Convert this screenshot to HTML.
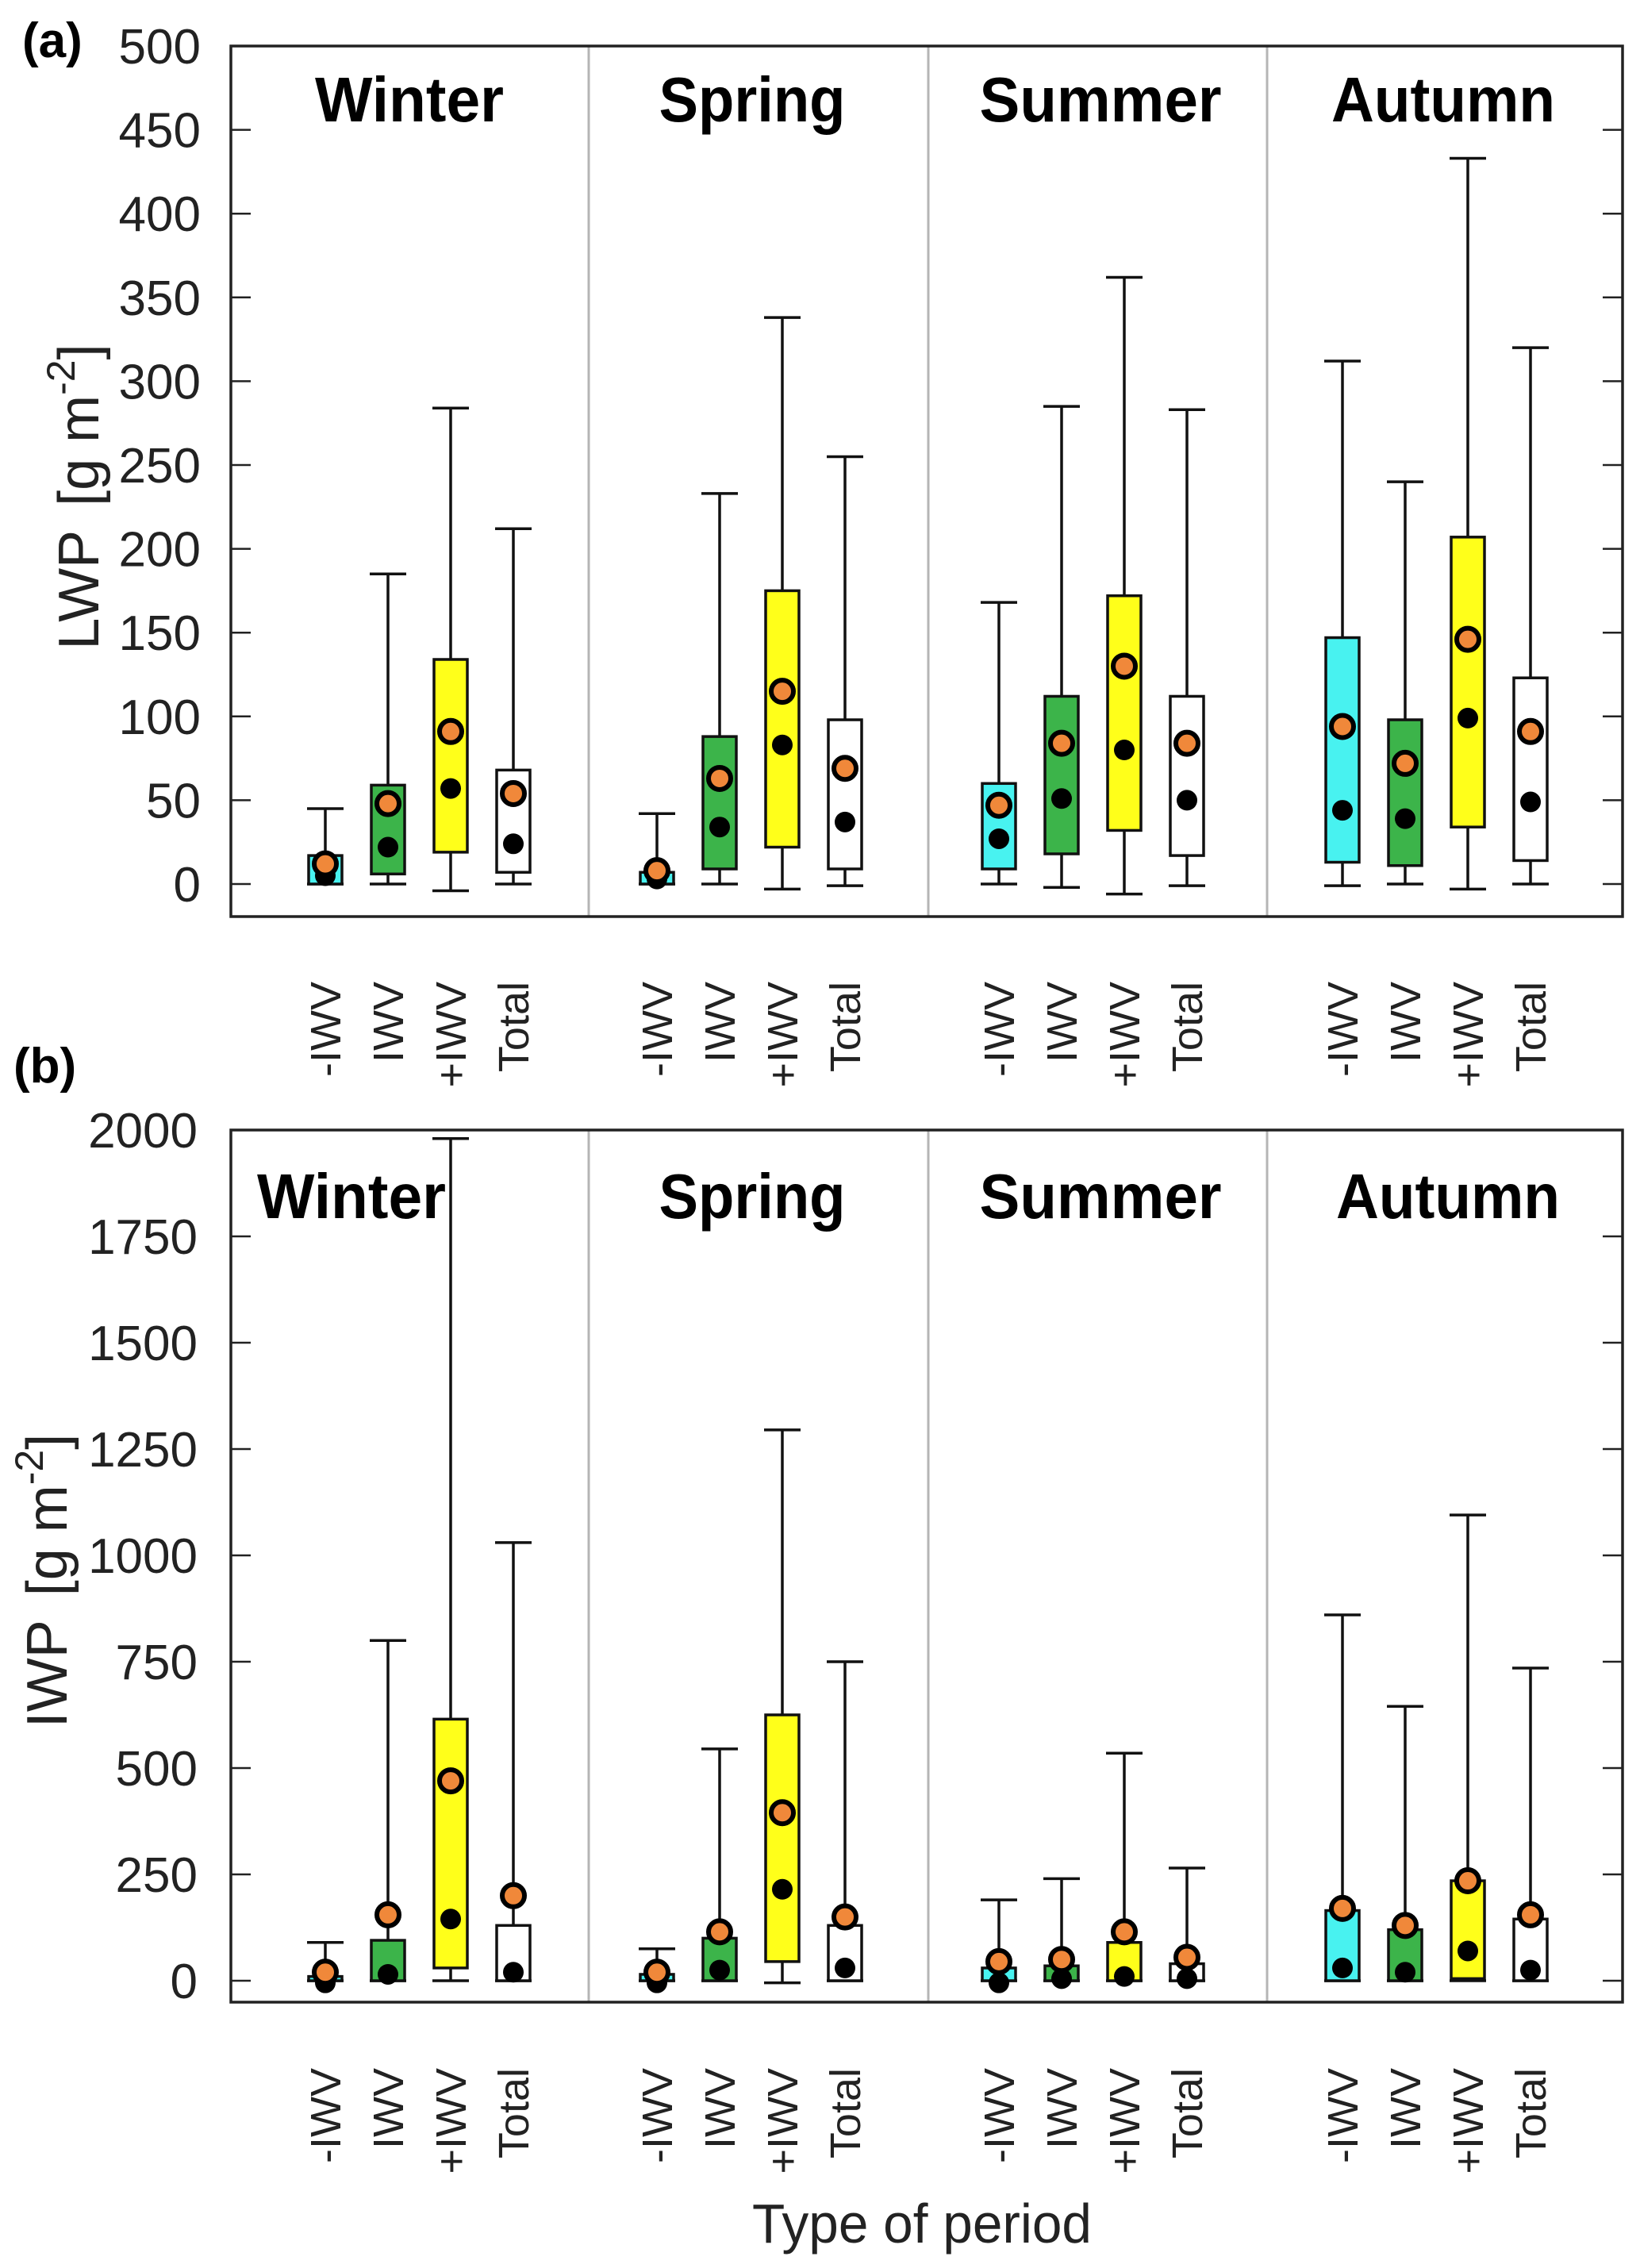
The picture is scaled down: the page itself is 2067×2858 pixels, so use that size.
<!DOCTYPE html>
<html><head><meta charset="utf-8"><style>
html,body{margin:0;padding:0;background:#fff;}
svg{display:block;}
text{font-family:"Liberation Sans",sans-serif;fill:#222;}
</style></head><body>
<svg id="fig" xmlns="http://www.w3.org/2000/svg" width="2067" height="2858" viewBox="0 0 2067 2858">
<rect width="2067" height="2858" fill="#fff"/>
<g id="root"></g>
</svg>
<script>
// ---- data ----
const seasons = ["Winter","Spring","Summer","Autumn"];
const categories = ["-IWV","IWV","+IWV","Total"];
const colors = ["#48f2f0","#3cb44a","#ffff1a","#ffffff"];
// LWP panel (a): order per season: -IWV, IWV, +IWV, Total
const lwpWhiskerLow = [0,0,-4,0, 0,0,-3,-1, 0,-2,-6,-1, -1,0,-3,0];
const lwpQ1         = [0,6,19,7, 0,9,22,9, 9,18,32,17, 13,11,34,14];
const lwpMedian     = [5,22,57,24, 3,34,83,37, 27,51,80,50, 44,39,99,49];
const lwpMean       = [12,48,91,54, 8,63,115,69, 47,84,130,84, 94,72,146,91];
const lwpQ3         = [17,59,134,68, 7,88,175,98, 60,112,172,112, 147,98,207,123];
const lwpWhiskerHigh= [45,185,284,212, 42,233,338,255, 168,285,362,283, 312,240,433,320];
// IWP panel (b)
const iwpWhiskerLow = [0,0,0,0, 0,0,-5,0, 0,0,0,0, 0,0,0,0];
const iwpQ1         = [0,0,30,0, 0,0,45,0, 0,0,0,0, 0,0,5,0];
const iwpMedian     = [-5,15,145,20, -5,25,215,30, -5,5,10,5, 30,20,70,25];
const iwpMean       = [20,155,470,200, 20,115,395,150, 45,50,115,55, 170,130,235,155];
const iwpQ3         = [10,95,615,130, 15,100,625,130, 30,35,90,40, 165,120,235,145];
const iwpWhiskerHigh= [90,800,1980,1030, 75,545,1295,750, 190,240,535,265, 860,645,1095,735];
const lwpTicks = [0,50,100,150,200,250,300,350,400,450,500];
const iwpTicks = [0,250,500,750,1000,1250,1500,1750,2000];

// ---- layout ----
const NS="http://www.w3.org/2000/svg";
const root=document.getElementById('root');
function el(tag,attrs,parent){const e=document.createElementNS(NS,tag);for(const k in attrs)e.setAttribute(k,attrs[k]);(parent||root).appendChild(e);return e;}
const X0=291, X1=2045;
const groupStart=[410,828,1259,1692];
const boxStep=79, boxW=21, capW=23;
const seps=[742,1170,1597];
function xPos(i){return groupStart[Math.floor(i/4)]+(i%4)*boxStep;}

function panel(cfg){
  const g=el('g',{});
  
  
  const y=v=>cfg.yBase+(v-0)*(cfg.yTopPix-cfg.yBase)/cfg.yMax;
  seps.forEach((sx,i)=>{const l=el('line',{x1:sx,y1:cfg.top,x2:sx,y2:cfg.bottom,stroke:'#b5b5b5','stroke-width':3},g);
    
    });
  cfg.ticks.forEach(t=>{
    const ty=y(t);
    if(ty>cfg.top+2){
      const a=el('line',{x1:X0,y1:ty,x2:X0+25,y2:ty,stroke:'#222','stroke-width':2.5},g);
      
      
      const b=el('line',{x1:X1-25,y1:ty,x2:X1,y2:ty,stroke:'#222','stroke-width':2.5},g);
      
      
    }
    const tx=el('text',{x:cfg.labelRight,y:ty+22,'text-anchor':'end','font-size':62},g);
    tx.textContent=t;
    
    
  });
  for(let i=0;i<16;i++){
    const cx=xPos(i), k=i%4;
    const bg=el('g',{},g);
    
    
    const ln={stroke:'#111','stroke-width':3.5};
    el('line',Object.assign({x1:cx,y1:y(cfg.q3[i]),x2:cx,y2:y(cfg.hi[i])},ln),bg);
    el('line',Object.assign({x1:cx-capW,y1:y(cfg.hi[i]),x2:cx+capW,y2:y(cfg.hi[i])},ln),bg);
    el('line',Object.assign({x1:cx,y1:y(cfg.lo[i]),x2:cx,y2:y(cfg.q1[i])},ln),bg);
    el('line',Object.assign({x1:cx-capW,y1:y(cfg.lo[i]),x2:cx+capW,y2:y(cfg.lo[i])},ln),bg);
    const yt=y(cfg.q3[i]), yb=y(cfg.q1[i]);
    el('rect',{x:cx-boxW,y:yt,width:boxW*2,height:Math.max(yb-yt,1),fill:colors[k],stroke:'#111','stroke-width':3.5},bg);
    el('circle',{cx:cx,cy:y(cfg.med[i]),r:13,fill:'#000'},bg);
    el('circle',{cx:cx,cy:y(cfg.mean[i]),r:14,fill:'#f0883a',stroke:'#000','stroke-width':6},bg);
  }
  const fr=el('rect',{x:X0,y:cfg.top,width:X1-X0,height:cfg.bottom-cfg.top,fill:'none',stroke:'#222','stroke-width':3.5},g);
  
  
  seasons.forEach((s,i)=>{
    const t=el('text',{x:cfg.titleX[i],y:cfg.titleY,'text-anchor':'middle','font-size':80,'font-weight':'bold',textLength:cfg.titleW[i],lengthAdjust:'spacingAndGlyphs'},g);
    t.textContent=s;t.style.fill='#000';
    
    
  });
  for(let i=0;i<16;i++){
    const cx=xPos(i);
    const t=el('text',{x:0,y:0,'text-anchor':'end','font-size':54,transform:`translate(${cx+19},${cfg.catTop}) rotate(-90)`},g);
    t.textContent=categories[i%4];
    
    
  }
  const yt2=el('text',{x:0,y:0,'text-anchor':'middle','font-size':72,transform:`translate(${cfg.ytX},${cfg.ytY}) rotate(-90)`},g);
  yt2.innerHTML=cfg.yTitle+'<tspan dx="30">[g m</tspan><tspan dy="-30" font-size="50">-2</tspan><tspan dy="30">]</tspan>';
  
  
  const pl=el('text',{x:cfg.plX,y:cfg.plY,'font-size':62,'font-weight':'bold'},g);
  pl.textContent=cfg.label;pl.style.fill='#000';
  
  
}

panel({name:'panel-a-lwp',top:58,bottom:1155,yBase:1114,yTopPix:58,yMax:500,ticks:lwpTicks,labelRight:253,
  lo:lwpWhiskerLow,q1:lwpQ1,med:lwpMedian,mean:lwpMean,q3:lwpQ3,hi:lwpWhiskerHigh,
  titleX:[516,948,1387,1819],titleY:153,titleW:[238,235,305,282],catTop:1237,
  yTitle:'LWP',ytX:124,ytY:626,label:'(a)',plX:28,plY:72});
panel({name:'panel-b-iwp',top:1424,bottom:2523,yBase:2496,yTopPix:1424,yMax:2000,ticks:iwpTicks,labelRight:249,
  lo:iwpWhiskerLow,q1:iwpQ1,med:iwpMedian,mean:iwpMean,q3:iwpQ3,hi:iwpWhiskerHigh,
  titleX:[443,948,1387,1825],titleY:1535,titleW:[238,235,305,282],catTop:2606,
  yTitle:'IWP',ytX:84,ytY:1992,label:'(b)',plX:17,plY:1364});

const xt=el('text',{x:1162,y:2826,'text-anchor':'middle','font-size':70,textLength:428,lengthAdjust:'spacingAndGlyphs'});
xt.textContent='Type of period';


</script>
</body></html>
